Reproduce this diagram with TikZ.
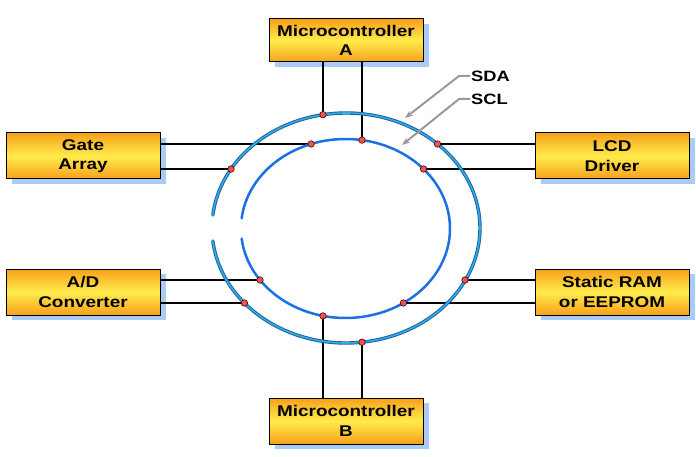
\documentclass[tikz,border=0pt]{standalone}
\usepackage{fontspec}
\newfontfamily\boxfont{Liberation Sans}[FakeStretch=1.22]
\usetikzlibrary{shadows,arrows.meta}
\definecolor{boxorange}{RGB}{247,160,28}
\definecolor{boxyellow}{RGB}{255,236,75}
\definecolor{shadowblue}{RGB}{168,204,245}
\definecolor{sdaedge}{RGB}{30,90,170}
\definecolor{sdafill}{RGB}{45,175,215}
\definecolor{sclblue}{RGB}{28,112,228}
\definecolor{dotred}{RGB}{235,85,80}
\tikzset{
  devbox/.style={draw=black, line width=1pt, minimum width=154pt, minimum height=46pt,
    inner sep=0pt, align=center, top color=boxorange, bottom color=boxorange, middle color=boxyellow,
    font=\boxfont\bfseries\fontsize{15.5}{19.5}\selectfont,
    drop shadow={shadow xshift=6pt, shadow yshift=-5pt, fill=shadowblue, opacity=1}},
  wire/.style={black, line width=1.5pt},
  sdaline/.style={draw=sdaedge, double=sdafill, line width=0.9pt, double distance=1.6pt, line cap=round},
  sclline/.style={draw=sclblue, line width=2.5pt, line cap=round},
  tap/.style={circle, fill=dotred, draw=black!70!red, line width=0.6pt, minimum size=6.5pt, inner sep=0pt},
  buslabel/.style={font=\boxfont\bfseries\fontsize{15}{17}\selectfont, inner sep=1pt, anchor=west},
  pointer/.style={gray!80, line width=2pt, -{Stealth[length=8pt,width=6pt]}}
}
\begin{document}
\begin{tikzpicture}[x=1pt,y=-1pt]
\useasboundingbox (0,0) rectangle (696,457);

% devices
\node[devbox, minimum height=43pt] (ma) at (346,40.5) {Microcontroller\\A};
\node[devbox] (mb) at (346,421) {Microcontroller\\B};
\node[devbox] (ga) at (83,156) {Gate\\Array};
\node[devbox] (lcd) at (612,156) {LCD\\Driver};
\node[devbox] (ad) at (83,292) {A/D\\Converter};
\node[devbox] (sr) at (612,292) {Static RAM\\or EEPROM};

% tap points on SDA (outer) and SCL (inner)
\coordinate (oMA) at (323,114.7);
\coordinate (oLCD) at (437.5,144);
\coordinate (oGA) at (231,169);
\coordinate (oAD) at (244.4,303);
\coordinate (oSR) at (465,280);
\coordinate (oMB) at (362,342.2);
\coordinate (iMA) at (362,140.1);
\coordinate (iGA) at (311.1,144);
\coordinate (iLCD) at (423.6,169);
\coordinate (iAD) at (260,280);
\coordinate (iSR) at (403.4,303);
\coordinate (iMB) at (323,315.9);

% wires
\draw[wire] (ma.south -| oMA) -- (oMA);
\draw[wire] (ma.south -| iMA) -- (iMA);
\draw[wire] (mb.north -| iMB) -- (iMB);
\draw[wire] (mb.north -| oMB) -- (oMB);
\draw[wire] (iGA -| ga.east) -- (iGA);
\draw[wire] (oGA -| ga.east) -- (oGA);
\draw[wire] (oLCD -| lcd.west) -- (oLCD);
\draw[wire] (iLCD -| lcd.west) -- (iLCD);
\draw[wire] (iAD -| ad.east) -- (iAD);
\draw[wire] (oAD -| ad.east) -- (oAD);
\draw[wire] (oSR -| sr.west) -- (oSR);
\draw[wire] (iSR -| sr.west) -- (iSR);

% buses
\draw[sdaline] ([shift={(186.5:134pt and 115pt)}]346,228)
  arc[start angle=186.5, end angle=533.5, x radius=134pt, y radius=115pt];
\draw[sclline] ([shift={(186.5:104.5pt and 89.5pt)}]345.5,228.5)
  arc[start angle=186.5, end angle=533.5, x radius=104.5pt, y radius=89.5pt];

% taps
\foreach \p in {oMA,oLCD,oGA,oAD,oSR,oMB,iMA,iGA,iLCD,iAD,iSR,iMB}
  \node[tap] at (\p) {};

% labels
\node[buslabel] (sda) at (470,76) {SDA};
\node[buslabel] (scl) at (470,99) {SCL};
\coordinate (sdatip) at (405,118);
\coordinate (scltip) at (402,145);
\draw[pointer] (sda.west) -- ++(-11,0) -- (sdatip);
\draw[pointer] (scl.west) -- ++(-11,0) -- (scltip);
\end{tikzpicture}
\end{document}
